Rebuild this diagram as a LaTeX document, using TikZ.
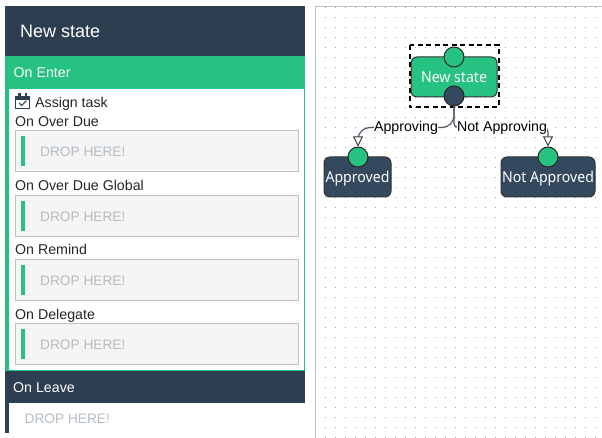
\documentclass[tikz,border=0pt]{standalone}
\usepackage{fontspec}
\setmainfont{Liberation Sans}
\newfontfamily\statefont[FakeStretch=0.94]{Noto Sans}
\usetikzlibrary{arrows.meta}
\definecolor{panelgreen}{HTML}{26C281}
\definecolor{paneldark}{HTML}{2C3E50}
\definecolor{nodedark}{HTML}{34495E}
\definecolor{edgegray}{HTML}{55556A}
\definecolor{hinttext}{HTML}{B4BCC4}
\tikzset{
  txt/.style={anchor=base west,inner sep=0pt,font=\fontsize{14.2}{16}\selectfont},
  lighttxt/.style={txt,text=white},
  blacktxt/.style={txt,text=black!85},
  hint/.style={anchor=base west,inner sep=0pt,text=hinttext,font=\fontsize{13.7}{16}\selectfont},
  dropbox/.style={fill=black!4,draw=black!25,line width=1pt},
  statebox/.style={draw=black!80,line width=1pt,rounded corners=6pt,minimum height=40pt,inner sep=0pt,
    text=white,text height=13pt,text depth=1pt,font=\statefont\fontsize{15}{17}\selectfont},
  port/.style={circle,draw=black!85,line width=1pt,minimum size=20pt,inner sep=0pt},
  edge/.style={draw=edgegray,line width=1.2pt,-{Triangle[open,fill=white,length=10pt,width=10pt,line width=1pt,color=black!75]}},
  edgelabel/.style={fill=white,text=black,inner sep=0pt,text height=13pt,text depth=3pt,font=\fontsize{14.2}{16}\selectfont},
}
\begin{document}
\begin{tikzpicture}[x=1pt,y=-1pt]
\useasboundingbox (0,0) rectangle (602,438);
\fill[white] (0,0) rectangle (602,438);
% left panel
\fill[paneldark] (5,6) rectangle (305,56);
\fill[panelgreen] (5,56) rectangle (305,371);
\fill[white] (9,89) rectangle (304,370);
\fill[paneldark] (5,371) rectangle (305,403);
\fill[paneldark] (5,403) rectangle (9,433);
\node[lighttxt,font=\fontsize{18}{20}\selectfont] (title) at (20,37.5) {New state};
\node[lighttxt] (enter) at (13.5,77.4) {On Enter};
\node[lighttxt] (leave) at (13,392.4) {On Leave};
\node[hint] (drop5) at (24.5,423.5) {DROP HERE!};
% calendar icon
\begin{scope}[paneldark]
\draw[line width=1.3pt] (15.7,96.5) rectangle (29.3,108.3);
\fill (15.7,96) rectangle (29.3,99.8);
\fill (18,93) rectangle (20.5,97);
\fill (24.5,93) rectangle (27,97);
\draw[line width=1.1pt] (19,103) -- (21.7,105.5) -- (26.3,100.8);
\end{scope}
\node[blacktxt] (assign) at (35,107.4) {Assign task};
\node[blacktxt] (lab1) at (15,126.6) {On Over Due};
\node[blacktxt] (lab2) at (15,190.6) {On Over Due Global};
\node[blacktxt] (lab3) at (15,254.6) {On Remind};
\node[blacktxt] (lab4) at (15,319.2) {On Delegate};
\foreach \y/\n in {130/1,195/2,259/3,323/4}{
  \draw[dropbox] (15.5,\y+0.5) rectangle (298.5,\y+41.5);
  \fill[panelgreen] (21,\y+6) rectangle (25,\y+36);
  \node[hint] (drop\n) at (40,\y+26.5) {DROP HERE!};
}
% canvas
\fill[black!25] (315,6) rectangle (602,7);
\fill[black!25] (315.2,6) rectangle (316.4,438);
\foreach \x in {325,335,...,595}{
  \foreach \y in {7,17,...,437}{
    \fill[black!35] (\x-0.4,\y-0.4) rectangle (\x+0.4,\y+0.4);
  }
}
% states
\node[statebox,fill=panelgreen,minimum width=86pt] (newstate) at (454,77) {New state};
\node[statebox,fill=nodedark,minimum width=67pt] (approved) at (357.5,177) {Approved};
\node[statebox,fill=nodedark,minimum width=94pt] (notapproved) at (548,177) {Not Approved};
\draw[black,line width=2pt,dash pattern=on 5pt off 3.5pt] (409.5,45.5) rectangle (498.5,107.5);
\node[port,fill=panelgreen] (pin) at (454,57) {};
\node[port,fill=nodedark] (pout) at (454,96) {};
\node[port,fill=panelgreen] (pa) at (358,157) {};
\node[port,fill=panelgreen] (pn) at (548,157) {};
% connectors
\draw[edge,rounded corners=12pt] (pout.south) |- ++(-96,21) -- (pa.north);
\draw[edge,rounded corners=4pt] (pout.south) |- ++(94,21) -- (pn.north);
\node[edgelabel] (lapp) at (406,127) {Approving};
\node[edgelabel] (lnot) at (502,127) {Not Approving};
\end{tikzpicture}
\end{document}
